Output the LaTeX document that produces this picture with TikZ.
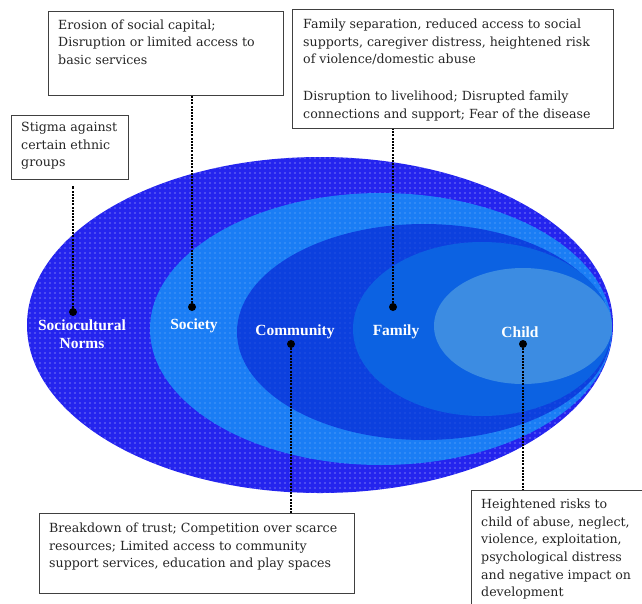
\documentclass[tikz,border=0pt]{standalone}
\usepackage{fontspec}
\setmainfont{Liberation Serif}
\newfontfamily\calloutfont{DejaVu Serif}
\usetikzlibrary{positioning,patterns.meta}

\definecolor{normsblue}{HTML}{2424EE}
\definecolor{societyblue}{HTML}{1A7DF5}
\definecolor{communityblue}{HTML}{0C40DE}
\definecolor{familyblue}{HTML}{0C62E2}
\definecolor{childblue}{HTML}{3C8CE2}

\tikzset{
  frame/.style={draw=black!75, line width=1.1pt, fill=white, inner sep=0pt, anchor=north west},
  boxtext/.style={align=left, anchor=north west, inner sep=0pt, text=black!85,
    font=\calloutfont\fontsize{12.6}{17.6}\selectfont},
  ring/.style={font=\bfseries\fontsize{15.5}{17.5}\selectfont, text=white, align=center, inner sep=0pt},
  pin/.style={circle, fill=black, inner sep=0pt, minimum size=8pt},
  leader/.style={line width=2pt, dash pattern=on 2pt off 1.2pt},
  dotted fill/.style={pattern={Dots[distance=5pt,radius=0.65pt]}, pattern color=white!#1},
}

\begin{document}
\begin{tikzpicture}[x=1pt,y=-1pt]
\useasboundingbox (0,0) rectangle (642,603);

% nested rings, outside in
\fill[normsblue] (320,325) ellipse [x radius=293, y radius=168];
\fill[dotted fill=80!normsblue] (320,325) ellipse [x radius=293, y radius=168];
\fill[societyblue] (381,329) ellipse [x radius=231, y radius=136];
\fill[dotted fill=45!societyblue] (381,329) ellipse [x radius=231, y radius=136];
\fill[communityblue] (424,332) ellipse [x radius=187, y radius=108];
\fill[dotted fill=20!communityblue] (424,332) ellipse [x radius=187, y radius=108];
\fill[familyblue] (482,329) ellipse [x radius=129, y radius=87];
\fill[childblue] (523,326) ellipse [x radius=89, y radius=58];

% ring labels
\node[ring] (norms) at (82,334) {Sociocultural\\Norms};
\node[ring] (society) at (194,326) {Society};
\node[ring] (community) at (295,332) {Community};
\node[ring] (family) at (396,332) {Family};
\node[ring] (child) at (520,332) {Child};

% pins
\node[pin] (normsdot) at (73,312) {};
\node[pin] (societydot) at (192,307) {};
\node[pin] (familydot) at (393,307) {};
\node[pin] (communitydot) at (291,344) {};
\node[pin] (childdot) at (523,344) {};

% callout boxes
\node[frame, minimum width=235, minimum height=84] (erosionbox) at (48,11) {};
\node[boxtext] (erosiontext) at (58,19.5) {Erosion of social capital;\\Disruption or limited access to\\basic services};

\node[frame, minimum width=117, minimum height=64] (stigmabox) at (11,115) {};
\node[boxtext] (stigmatext) at (21,122) {Stigma against\\certain ethnic\\groups};

\node[frame, minimum width=321, minimum height=119] (familybox) at (292,9) {};
\node[boxtext] (familytext) at (303,19) {Family separation, reduced access to social\\supports, caregiver distress, heightened risk\\of violence/domestic abuse\\[19pt]Disruption to livelihood; Disrupted family\\connections and support; Fear of the disease};

\node[frame, minimum width=315, minimum height=80] (breakdownbox) at (39,513) {};
\node[boxtext] (breakdowntext) at (49,523) {Breakdown of trust; Competition over scarce\\resources; Limited access to community\\support services, education and play spaces};

\node[frame, minimum width=190, minimum height=130] (riskbox) at (471,490) {};
\node[boxtext] (risktext) at (481,499) {Heightened risks to\\child of abuse, neglect,\\violence, exploitation,\\psychological distress\\and negative impact on\\development};

% leaders
\draw[leader] (normsdot) -- ([yshift=-6pt]normsdot |- stigmabox.south);
\draw[leader] (societydot) -- (societydot |- erosionbox.south);
\draw[leader] (familydot) -- (familydot |- familybox.south);
\draw[leader] (communitydot) -- (communitydot |- breakdownbox.north);
\draw[leader] (childdot) -- (childdot |- riskbox.north);
\end{tikzpicture}
\end{document}
